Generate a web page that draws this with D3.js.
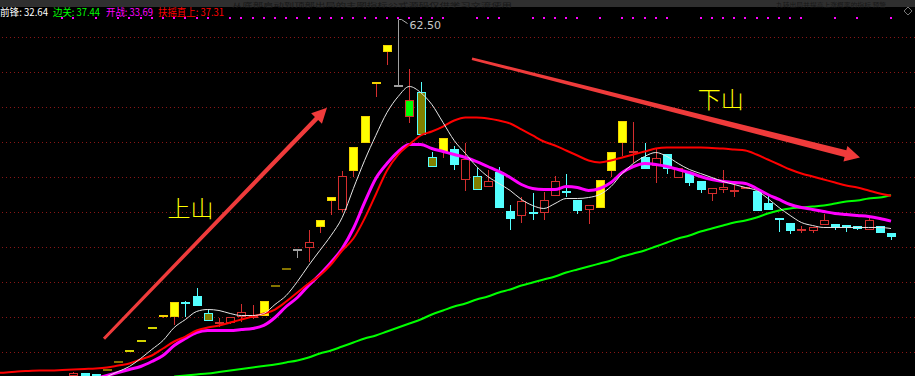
<!DOCTYPE html>
<html><head><meta charset="utf-8">
<script src="https://cdn.jsdelivr.net/npm/d3@7/dist/d3.min.js"></script>
<style>html,body{margin:0;padding:0;background:#000;overflow:hidden}</style>
</head><body><svg id="c" width="915" height="376"></svg>
<script>
// ---------- DATA ----------
const candleOpen = [11.50,12.00,11.86,12.50,13.64,15.14,16.64,18.36,20.21,20.07,
 22.03,23.07,20.60,19.29,19.17,19.97,20.11,20.11,24.43,26.89,
 29.60,29.89,32.83,36.50,35.31,40.79,44.83,53.31,57.83,53.07,
 51.07,52.11,42.83,43.54,43.93,39.60,40.21,38.54,40.69,35.21,
 34.40,34.83,34.83,37.26,37.83,36.74,35.31,35.54,40.83,44.89,
 43.64,42.83,41.64,43.31,39.89,40.60,39.40,37.60,38.17,37.93,
 38.26,38.07,36.26,34.07,33.46,32.50,32.31,33.21,33.31,33.03,
 32.97,32.50,32.97,31.97];
const candleClose = [12.07,11.64,11.50,12.50,13.64,15.14,16.64,18.36,20.21,22.21,
 22.03,21.64,19.40,19.07,19.97,20.69,19.86,22.26,24.43,26.89,
 29.60,30.74,33.79,37.14,40.21,44.26,48.69,53.54,58.89,53.07,
 48.64,46.03,41.36,45.54,41.74,42.50,38.21,39.40,35.54,33.93,
 36.54,34.83,36.74,39.50,37.83,35.21,36.03,39.64,43.54,47.97,
 43.36,41.17,42.74,41.17,41.26,39.17,38.17,38.40,38.64,37.93,
 38.64,35.21,35.31,33.79,32.26,32.50,32.79,33.79,32.74,32.83,
 32.60,33.79,32.03,31.40];
const candleHigh = [12.21,12.00,11.86,12.50,13.64,15.14,16.64,18.36,20.21,22.21,
 22.26,24.21,21.03,19.86,20.07,21.89,21.74,22.26,24.43,26.89,
 29.60,32.50,33.79,37.14,40.83,44.26,48.69,53.54,58.89,62.50,
 55.46,53.54,43.64,45.54,44.40,44.89,41.26,41.07,41.40,35.93,
 37.11,37.69,37.83,40.21,40.36,36.74,36.03,39.64,43.54,47.97,
 47.79,44.89,43.93,43.31,41.26,40.60,39.40,38.40,40.93,38.93,
 38.64,38.07,37.36,34.07,33.46,33.07,32.79,34.74,33.31,33.03,
 32.97,34.26,32.97,31.97];
const candleLow = [11.50,11.64,11.50,12.50,13.64,15.14,16.64,18.36,19.79,18.79,
 19.93,21.64,19.40,18.57,19.07,19.26,19.74,20.11,24.43,26.89,
 28.46,27.83,31.93,34.57,34.97,39.97,44.83,51.50,55.93,53.07,
 47.69,46.03,41.36,42.69,40.93,38.07,38.21,38.54,35.54,32.36,
 33.40,33.89,33.89,37.26,37.11,34.74,33.31,35.54,40.07,43.07,
 42.07,41.17,39.11,40.46,39.89,38.69,37.74,36.64,37.69,37.21,
 38.26,35.21,35.31,32.11,31.89,31.97,31.97,33.21,32.50,32.11,
 32.36,32.50,32.03,30.93];
// candle category: up = rising, dn = falling, yel = strong rise, oli = weak fall,
// grn = turning, gry = neutral, dashY / dashO = flat bars
const candleKind = ['up','dn','dn','dashO','dashO','dashY','dashY','dashY','yel','yel',
 'dn','dn','oli','grn','up','up','grn','yel','dashO','dashO',
 'gry','up','yel','yel','up','yel','yel','yel','yel','gry',
 'grn','oli','oli','yel','dn','up','oli','up','dn','dn',
 'up','dn','up','up','dn','dn','up','yel','yel','yel',
 'grn','dn','up','dn','up','dn','dn','up','up','grn',
 'up','dn','dn','dn','dn','up','up','up','dn','dn',
 'dn','up','dn','dn'];

// 前锋 (white), starts at bar 3
const qianfengStart = 3;
const qianfeng = [11.50,12.21,12.93,14.07,15.36,16.64,18.50,19.64,20.79,21.07,
 20.93,20.50,20.21,20.21,20.50,21.79,23.07,25.07,27.36,29.50,
 31.64,34.21,38.36,42.36,45.93,49.21,51.50,52.93,52.07,50.36,
 47.79,45.21,43.36,41.50,40.07,39.07,38.07,36.79,35.93,35.50,
 36.21,36.93,36.93,37.07,37.50,38.64,40.50,41.93,42.93,43.50,
 42.93,41.93,41.07,40.50,39.93,39.36,38.93,38.50,38.07,36.93,
 35.64,34.50,33.50,33.07,32.79,32.79,32.79,32.79,32.79,32.79,
 32.64];
// 开战 (magenta), starts at bar 2
const kaizhanStart = 2;
const kaizhan = [11.21,11.64,12.07,12.50,12.93,13.64,14.50,15.93,16.93,17.79,
 18.07,18.07,18.07,18.21,18.36,18.79,19.93,21.50,22.79,24.50,
 26.07,27.79,29.79,32.64,36.36,39.79,41.93,43.64,44.64,44.64,
 44.07,43.64,43.21,42.79,42.21,41.50,40.79,39.93,38.93,38.36,
 38.21,38.21,38.64,38.50,38.07,38.36,39.21,40.64,41.50,41.93,
 41.79,41.50,41.07,40.64,40.07,39.64,39.36,39.21,39.07,38.36,
 37.50,36.79,36.07,35.64,35.36,35.07,34.79,34.64,34.50,34.36,
 34.07,33.69];
// 扶摇直上 (red), starts at bar -7
const fuyaoStart = -7;
const fuyao = [12.00,12.07,12.21,12.29,12.36,12.36,12.43,
 12.50,12.57,12.64,12.79,13.07,13.36,13.93,14.50,15.50,16.50,
 17.21,18.07,18.50,18.79,19.21,19.64,20.07,20.50,21.07,22.21,
 23.50,24.79,25.93,27.50,29.50,31.21,34.07,37.50,40.93,43.21,
 44.64,45.93,46.50,47.21,48.07,48.50,48.50,48.36,48.07,47.64,
 46.79,45.93,45.07,44.50,43.79,43.07,42.36,42.07,42.36,42.79,
 43.21,43.64,44.07,44.21,44.21,44.21,44.21,44.14,44.07,43.93,
 43.79,43.21,42.50,41.79,41.07,40.50,40.07,39.64,39.21,38.79,
 38.50,38.07,37.64,37.31];
// 边关 (green), starts at bar 9
const bianguanStart = 9;
const bianguan = [11.50,11.64,11.79,11.93,12.14,12.36,12.57,12.79,13.00,13.21,
 13.50,13.79,14.21,14.79,15.21,15.79,16.36,16.93,17.36,17.93,
 18.50,19.07,19.64,20.36,20.93,21.50,21.93,22.50,22.93,23.50,
 23.93,24.50,24.93,25.36,25.79,26.36,26.79,27.21,27.64,28.07,
 28.64,29.07,29.50,30.07,30.64,31.21,31.64,32.21,32.64,33.07,
 33.50,33.79,34.21,34.79,35.21,35.50,35.64,35.79,35.93,36.21,
 36.50,36.64,36.93,37.07,37.44];
// signal bars (dots on top row)
const signalBars = [-1,0,2,4,5,6,7,8,9,10,11,12,14,15,16,17,18,19,20,21,22,23,24,25,26,27,28,29,30,31,32,33,
 36,37,38,41,42,43,44,45,47,49,50,51,52,53,56,57,58,59,60,61,62,63,64,65,68,70,73];
const gridLevels = [15,20,25,30,35,40,45,50,55,60];
const legendNames = ['前锋','边关','开战','扶摇直上'];
const trendLabels = ['上山','下山'];
// annotation arrows in (bar, price)
const arrowUp = [[2.73,16.9],[22.64,49.9]];
const arrowDown = [[35.59,56.9],[70.23,42.8]];
const labelUpPos = [8.4, 34.3];
const labelDownPos = [55.75, 49.85];
const titleLeft = '从底部启动到顶部出局的主图指标公式源码仅供学习交流使用';
const titleRight = '九转出局并提高上涨概率的指标 预警';

// ---------- CHART ----------
const W = 915, H = 376;
const svg = d3.select('#c');
const x = d3.scaleLinear().domain([0, 73]).range([73.4, 891]);
const y = d3.scaleLinear().domain([15, 60]).range([352, 37]);
const FONT = '"Noto Sans CJK SC","Noto Sans",sans-serif';

svg.append('rect').attr('width', W).attr('height', H).attr('fill', '#000');

// top band with faint title
svg.append('rect').attr('width', W).attr('height', 7).attr('fill', '#2f2f2f');
svg.append('text').attr('x', 232).attr('y', 6.8).attr('font-size', 5.8).attr('font-family', FONT)
  .attr('fill', '#181818').attr('textLength', 280).attr('lengthAdjust', 'spacingAndGlyphs').text(titleLeft);
svg.append('text').attr('x', 776).attr('y', 6.8).attr('font-size', 5.8).attr('font-family', FONT)
  .attr('fill', '#181818').attr('textLength', 110).attr('lengthAdjust', 'spacingAndGlyphs').text(titleRight);

// grid
const grid = svg.append('g').attr('transform', 'translate(915,0)')
  .call(d3.axisLeft(y).tickValues(gridLevels).tickSize(W).tickFormat(''));
grid.select('.domain').remove();
grid.selectAll('.tick line').attr('stroke', '#8a1616').attr('stroke-dasharray', '1,3')
  .attr('shape-rendering', 'crispEdges');

// candles
const UP = '#d42e2e', CY = '#54ffff';
const style = {
  up:   {fill: '#000', stroke: UP, wick: UP},
  dn:   {fill: CY, stroke: CY, wick: CY},
  yel:  {fill: '#ffff00', stroke: '#f2d200', wick: UP},
  oli:  {fill: '#808000', stroke: CY, wick: CY},
  grn:  {fill: '#00ff00', stroke: UP, wick: UP},
  gry:  {fill: '#999', stroke: '#a0a0a0', wick: '#a0a0a0'},
  dashY:{fill: '#d4d400', stroke: '#d4d400', wick: '#d4d400'},
  dashO:{fill: '#857400', stroke: '#857400', wick: '#857400'}
};
const bars = d3.range(candleOpen.length).map(i => ({
  i, o: candleOpen[i], c: candleClose[i], h: candleHigh[i], l: candleLow[i], k: candleKind[i]
}));
const cg = svg.append('g').attr('shape-rendering', 'crispEdges');
bars.forEach(b => {
  const s = style[b.k];
  const cx = Math.round(x(b.i));
  if (b.k.startsWith('dash')) {
    cg.append('rect').attr('x', cx - 4).attr('y', Math.round(y(b.o)) - 1)
      .attr('width', 9).attr('height', 2).attr('fill', s.fill);
    return;
  }
  const yh = y(b.h), yl = y(b.l);
  if (yl - yh > 0.5) {
    cg.append('line').attr('x1', cx + 0.5).attr('x2', cx + 0.5)
      .attr('y1', yh).attr('y2', yl).attr('stroke', s.wick).attr('stroke-width', 1);
  }
  const top = Math.round(y(Math.max(b.o, b.c))), bot = Math.round(y(Math.min(b.o, b.c)));
  if (bot - top < 2) {
    cg.append('rect').attr('x', cx - 4).attr('y', top - 1)
      .attr('width', 9).attr('height', 2).attr('fill', s.stroke);
  } else {
    cg.append('rect').attr('x', cx - 3.5).attr('y', top + 0.5)
      .attr('width', 8).attr('height', bot - top - 1)
      .attr('fill', s.fill).attr('stroke', s.stroke).attr('stroke-width', 1);
  }
});

// moving lines
function series(arr, start) { return arr.map((v, k) => ({i: start + k, v})); }
const lineGen = d3.line().x(d => x(d.i)).y(d => y(d.v)).curve(d3.curveMonotoneX);
svg.append('path').datum(series(bianguan, bianguanStart)).attr('d', lineGen)
  .attr('fill', 'none').attr('stroke', '#00ff00').attr('stroke-width', 2);
svg.append('path').datum(series(kaizhan, kaizhanStart)).attr('d', lineGen)
  .attr('fill', 'none').attr('stroke', '#ff00ff').attr('stroke-width', 3);
svg.append('path').datum(series(fuyao, fuyaoStart)).attr('d', lineGen)
  .attr('fill', 'none').attr('stroke', '#ff0000').attr('stroke-width', 2);
svg.append('path').datum(series(qianfeng, qianfengStart)).attr('d', lineGen)
  .attr('fill', 'none').attr('stroke', '#e6e6e6').attr('stroke-width', 1);

// signal dots
svg.append('g').selectAll('rect').data(signalBars).join('rect')
  .attr('x', d => Math.round(x(d)) - 1).attr('y', 17).attr('width', 2).attr('height', 2)
  .attr('fill', '#ff00ff');

// max label
const maxI = d3.maxIndex(candleHigh);
const mx = Math.round(x(maxI)) + 0.5, my = y(candleHigh[maxI]);
svg.append('path').attr('d', `M${mx},${my}L${mx + 3},${my}L${mx + 9},${my + 4}`)
  .attr('fill', 'none').attr('stroke', '#b0b0b0').attr('stroke-width', 1);
svg.append('text').attr('x', mx + 11).attr('y', my + 9).attr('font-size', 11)
  .attr('font-family', '"DejaVu Sans",sans-serif').attr('fill', '#c8c8c8')
  .text(candleHigh[maxI].toFixed(2));

// arrows
function arrow(a, w0, w1, hl, hw) {
  const [x0, y0] = [x(a[0][0]), y(a[0][1])], [x1, y1] = [x(a[1][0]), y(a[1][1])];
  const dx = x1 - x0, dy = y1 - y0, L = Math.hypot(dx, dy);
  const ux = dx / L, uy = dy / L, nx = -uy, ny = ux;
  const bx = x1 - ux * hl, by = y1 - uy * hl;
  const pts = [
    [x0 + nx * w0 / 2, y0 + ny * w0 / 2], [bx + nx * w1 / 2, by + ny * w1 / 2],
    [bx + nx * hw / 2, by + ny * hw / 2], [x1, y1],
    [bx - nx * hw / 2, by - ny * hw / 2], [bx - nx * w1 / 2, by - ny * w1 / 2],
    [x0 - nx * w0 / 2, y0 - ny * w0 / 2]];
  svg.append('path').attr('d', 'M' + pts.map(p => p.join(',')).join('L') + 'Z')
    .attr('fill', '#ef3b3b');
}
arrow(arrowUp, 3, 4.5, 15, 15);
arrow(arrowDown, 2.5, 7, 15, 16);

// trend labels
[[labelUpPos, trendLabels[0]], [labelDownPos, trendLabels[1]]].forEach(([p, t]) => {
  svg.append('text').attr('x', x(p[0])).attr('y', y(p[1])).attr('font-size', 23)
    .attr('font-family', FONT).attr('font-weight', 300).attr('fill', '#ffff00').text(t);
});

// legend
const legendVals = [qianfeng[qianfeng.length - 1], bianguan[bianguan.length - 1],
  kaizhan[kaizhan.length - 1], fuyao[fuyao.length - 1]];
const legendColors = ['#ffffff', '#00ff00', '#ff00ff', '#ff0000'];
const legendX = [0, 53, 106, 158];
const legendW = [48, 47, 47, 66];
legendNames.forEach((n, k) => {
  svg.append('text').attr('x', legendX[k]).attr('y', 15.5).attr('font-size', 10)
    .attr('font-family', FONT).attr('fill', legendColors[k])
    .attr('textLength', legendW[k]).attr('lengthAdjust', 'spacingAndGlyphs')
    .text(`${n}: ${legendVals[k].toFixed(2)}`);
});

// corner diamond
svg.append('path').attr('d', 'M908,7L912,11L908,15L904,11Z').attr('fill', 'none')
  .attr('stroke', '#777').attr('stroke-width', 1);
</script></body></html>
